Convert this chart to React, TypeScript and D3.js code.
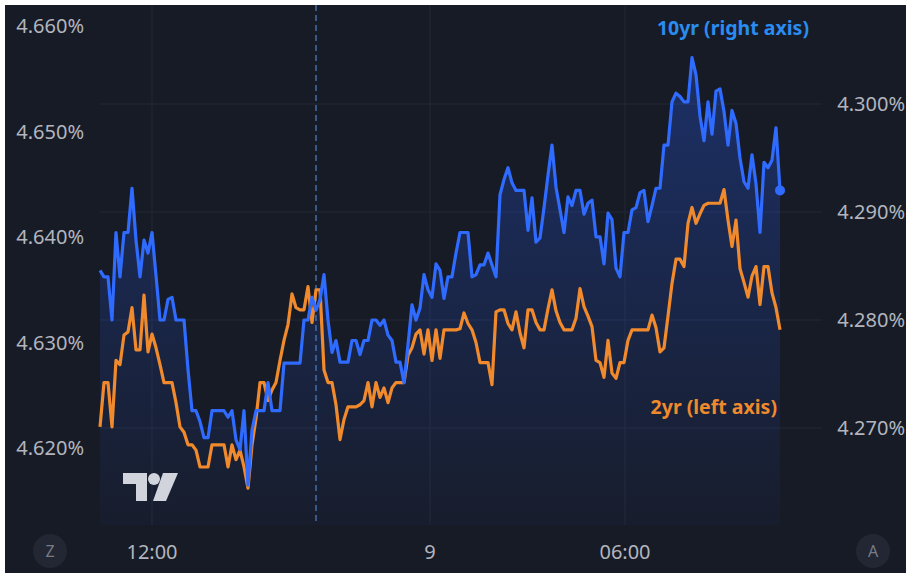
import * as d3 from "d3";

// 10yr yield, right axis (one value per bar)
const tenYr = [
  4.2846, 4.284, 4.284, 4.28, 4.2881, 4.284, 4.2881, 4.2881, 4.2922, 4.2874,
  4.284, 4.2874, 4.2862, 4.2881, 4.2841, 4.28, 4.28, 4.2819, 4.2821, 4.28,
  4.28, 4.28, 4.2754, 4.2716, 4.2716, 4.2706, 4.2691, 4.2691, 4.2716, 4.2716,
  4.2716, 4.2716, 4.271, 4.2716, 4.2689, 4.268, 4.2716, 4.2647, 4.2698, 4.2716,
  4.2716, 4.2716, 4.2742, 4.2716, 4.2716, 4.2716, 4.276, 4.276, 4.276, 4.276,
  4.276, 4.28, 4.28, 4.2821, 4.2809, 4.2819, 4.2842, 4.28, 4.277, 4.2781,
  4.2761, 4.2761, 4.2761, 4.2781, 4.2781, 4.2768, 4.2781, 4.2781, 4.28, 4.28,
  4.2795, 4.28, 4.2786, 4.2781, 4.2761, 4.2761, 4.2742, 4.2777, 4.2814, 4.28,
  4.2811, 4.2842, 4.2828, 4.2821, 4.2852, 4.2846, 4.282, 4.284, 4.284, 4.2862,
  4.2881, 4.2881, 4.2881, 4.284, 4.2842, 4.2851, 4.2851, 4.2862, 4.2851, 4.284,
  4.2916, 4.293, 4.2941, 4.2927, 4.292, 4.292, 4.292, 4.2883, 4.2913, 4.2872,
  4.2876, 4.2904, 4.2934, 4.2962, 4.2923, 4.2902, 4.2881, 4.2914, 4.2906, 4.292,
  4.292, 4.2898, 4.2908, 4.2911, 4.2877, 4.2877, 4.2852, 4.2899, 4.2893, 4.2848,
  4.284, 4.2881, 4.2881, 4.2902, 4.2904, 4.2918, 4.292, 4.2891, 4.2906, 4.2922,
  4.2922, 4.2962, 4.2962, 4.3002, 4.301, 4.3007, 4.3002, 4.3002, 4.3043, 4.3027,
  4.2989, 4.2966, 4.3002, 4.2972, 4.3012, 4.3014, 4.2993, 4.2962, 4.2994, 4.2982,
  4.295, 4.2928, 4.2922, 4.2953, 4.2926, 4.2881, 4.2946, 4.2941, 4.2948, 4.2978,
  4.292,
];

// 2yr yield, left axis
const twoYr = [
  4.622, 4.6262, 4.6262, 4.622, 4.6283, 4.6279, 4.6307, 4.631, 4.6333, 4.6293,
  4.6293, 4.6345, 4.6291, 4.6308, 4.6295, 4.6279, 4.6262, 4.6262, 4.6262, 4.6243,
  4.622, 4.6215, 4.6203, 4.6203, 4.6198, 4.6182, 4.6182, 4.6182, 4.6203, 4.6203,
  4.6203, 4.6203, 4.6182, 4.6203, 4.6189, 4.6198, 4.6182, 4.6162, 4.6203, 4.6228,
  4.6262, 4.6262, 4.6245, 4.6255, 4.6262, 4.6283, 4.6302, 4.6317, 4.6346, 4.6333,
  4.6331, 4.6331, 4.6353, 4.6319, 4.635, 4.635, 4.6274, 4.6262, 4.6262, 4.6241,
  4.6208, 4.6227, 4.6239, 4.6239, 4.6239, 4.6241, 4.6245, 4.6262, 4.6239, 4.6262,
  4.6248, 4.6257, 4.6243, 4.6257, 4.6262, 4.6262, 4.6262, 4.6288, 4.6295, 4.6308,
  4.6312, 4.6289, 4.6312, 4.6283, 4.6312, 4.6285, 4.6312, 4.6312, 4.6312, 4.6312,
  4.6313, 4.6328, 4.6318, 4.6312, 4.63, 4.6281, 4.6281, 4.6281, 4.626, 4.6329,
  4.6331, 4.6331, 4.6318, 4.6312, 4.6329, 4.6309, 4.6295, 4.6331, 4.6331, 4.6319,
  4.6312, 4.6312, 4.6332, 4.635, 4.633, 4.6319, 4.6312, 4.6312, 4.6312, 4.6323,
  4.6351, 4.6334, 4.6325, 4.6315, 4.6283, 4.6281, 4.6267, 4.6302, 4.6271, 4.6266,
  4.6281, 4.6281, 4.6302, 4.6312, 4.6312, 4.6312, 4.6312, 4.6312, 4.6326, 4.6314,
  4.6291, 4.6295, 4.6325, 4.6356, 4.6379, 4.6379, 4.6372, 4.6413, 4.6428, 4.6413,
  4.6422, 4.643, 4.6432, 4.6432, 4.6432, 4.6432, 4.6445, 4.6416, 4.6391, 4.6416,
  4.637, 4.6357, 4.6343, 4.6363, 4.6372, 4.6336, 4.6372, 4.6372, 4.6347, 4.6333,
  4.6312,
];

const leftTicks = [4.62, 4.63, 4.64, 4.65, 4.66];
const rightTicks = [4.27, 4.28, 4.29, 4.3];
const timeTickIndex = [13, 82.5, 131.25];
const timeTickLabels = ["12:00", "9", "06:00"];
const sessionBreakIndex = 54;

const BG = "#171b26";
const GRID = "#242936";
const TEXT = "#b2b5be";
const BLUE = "#2f6bff";
const ORANGE = "#f08a2c";
const FONT = "'Noto Sans', sans-serif";

export default function App() {
  const W = 907;
  const H = 576;
  const paneBottom = 525;

  const x = d3.scaleLinear().domain([0, tenYr.length - 1]).range([100, 780]);
  const yR = d3.scaleLinear().domain([4.27, 4.3]).range([428, 104]);
  const yL = d3.scaleLinear().domain([4.62, 4.66]).range([448, 26]);

  const blueLine = d3
    .line<number>()
    .x((d, i) => x(i))
    .y((d) => yR(d));
  const orangeLine = d3
    .line<number>()
    .x((d, i) => x(i))
    .y((d) => yL(d));
  const blueArea = d3
    .area<number>()
    .x((d, i) => x(i))
    .y0(paneBottom)
    .y1((d) => yR(d));

  const last = tenYr.length - 1;

  return (
    <svg
      width={W}
      height={H}
      style={{ position: "absolute", left: 0, top: 0, display: "block" }}
    >
      <defs>
        <linearGradient id="fillBlue" gradientUnits="userSpaceOnUse" x1="0" y1="60" x2="0" y2={paneBottom}>
          <stop offset="0" stopColor="#2962ff" stopOpacity={0.3} />
          <stop offset="1" stopColor="#2962ff" stopOpacity={0.03} />
        </linearGradient>
      </defs>
      <rect x={0} y={0} width={W} height={H} fill="#ffffff" />
      <rect x={5} y={5} width={901} height={568} fill={BG} />

      {/* grid */}
      {rightTicks.map((t) => (
        <line key={"hg" + t} x1={100} x2={822} y1={yR(t)} y2={yR(t)} stroke={GRID} strokeWidth={1} />
      ))}
      {timeTickIndex.map((t) => (
        <line key={"vg" + t} x1={x(t)} x2={x(t)} y1={5} y2={paneBottom} stroke={GRID} strokeWidth={1} />
      ))}

      {/* area + lines */}
      <path d={blueArea(tenYr) || ""} fill="url(#fillBlue)" />
      <line
        x1={x(sessionBreakIndex)}
        x2={x(sessionBreakIndex)}
        y1={5}
        y2={paneBottom}
        stroke="#4a7ab8"
        strokeWidth={1.3}
        strokeDasharray="6 4"
      />
      <path d={orangeLine(twoYr) || ""} fill="none" stroke={ORANGE} strokeWidth={3.2} strokeLinejoin="round" />
      <path d={blueLine(tenYr) || ""} fill="none" stroke={BLUE} strokeWidth={3.2} strokeLinejoin="round" />
      <circle cx={x(last)} cy={yR(tenYr[last])} r={5} fill={BLUE} />

      {/* logo */}
      <g fill="#d1d4dc">
        <path d="M123,473 H147 V501 H136 V484 H123 Z" />
        <circle cx={154} cy={479} r={6} />
        <path d="M163,473 H178 L166,501 H153 Z" />
      </g>

      {/* left axis */}
      {leftTicks.map((t) => (
        <text
          key={"l" + t}
          x={84}
          y={yL(t)}
          dy="0.35em"
          textAnchor="end"
          fill={TEXT}
          fontFamily={FONT}
          fontSize={20}
        >
          {t.toFixed(3)}%
        </text>
      ))}

      {/* right axis */}
      {rightTicks.map((t) => (
        <text
          key={"r" + t}
          x={905}
          y={yR(t)}
          dy="0.35em"
          textAnchor="end"
          fill={TEXT}
          fontFamily={FONT}
          fontSize={20}
        >
          {t.toFixed(3)}%
        </text>
      ))}

      {/* time axis */}
      {timeTickIndex.map((t, i) => (
        <text
          key={"t" + t}
          x={x(t)}
          y={552}
          dy="0.35em"
          textAnchor="middle"
          fill={TEXT}
          fontFamily={FONT}
          fontSize={20}
        >
          {timeTickLabels[i]}
        </text>
      ))}

      {/* Z / A buttons */}
      <circle cx={50} cy={551} r={17} fill="#232733" />
      <text x={50} y={551} dy="0.35em" textAnchor="middle" fill="#787b86" fontFamily={FONT} fontSize={16}>
        Z
      </text>
      <circle cx={873} cy={551} r={17} fill="#232733" />
      <text x={873} y={551} dy="0.35em" textAnchor="middle" fill="#787b86" fontFamily={FONT} fontSize={16}>
        A
      </text>

      {/* series labels */}
      <text x={809} y={28} dy="0.35em" textAnchor="end" fill="#2a8cf0" fontFamily={FONT} fontWeight="bold" fontSize={19.5}>
        10yr (right axis)
      </text>
      <text x={777} y={407} dy="0.35em" textAnchor="end" fill={ORANGE} fontFamily={FONT} fontWeight="bold" fontSize={19.5}>
        2yr (left axis)
      </text>
    </svg>
  );
}
